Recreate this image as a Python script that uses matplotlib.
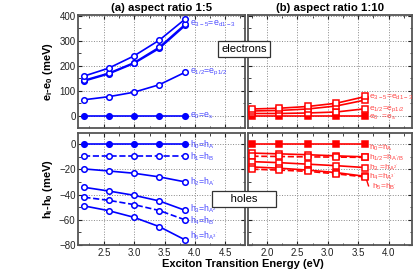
import matplotlib

matplotlib.use("Agg")

import matplotlib.pyplot as plt
from matplotlib.ticker import MultipleLocator

plt.rcParams["font.family"] = ["Liberation Sans", "DejaVu Sans"]
plt.rcParams["mathtext.fontset"] = "custom"
plt.rcParams["mathtext.rm"] = "Liberation Sans"
plt.rcParams["mathtext.default"] = "regular"

# exciton transition energies (eV)
x_a = [2.17, 2.57, 2.99, 3.41, 3.84]
x_b = [1.76, 2.20, 2.67, 3.14, 3.62]

# (a) aspect ratio 1:5, electrons (meV)
ea_0 = [0, 0, 0, 0, 0]
ea_12 = [65, 77, 95, 125, 175]
ea_3 = [140, 168, 210, 270, 362]
ea_4 = [143, 171, 213, 275, 367]
ea_5 = [160, 191, 240, 303, 388]

# (a) holes (meV)
ha_0 = [0, 0, 0, 0, 0]
ha_1 = [-9.5, -9.5, -9.5, -9.5, -9.5]
ha_2 = [-19.6, -21.2, -23.0, -25.9, -29.9]
ha_3 = [-34.2, -37.1, -40.5, -45.0, -52.5]
ha_4 = [-42.1, -44.5, -47.9, -52.6, -60.1]
ha_5 = [-49.0, -52.7, -58.0, -65.4, -76.0]

# (b) aspect ratio 1:10, electrons (meV)
eb_0 = [0, 0, 0, 0, 0]
eb_12 = [10, 10, 12, 16, 29]
eb_3 = [20, 22, 28, 40, 64]
eb_5 = [28, 31, 38, 51, 78]

# (b) holes (meV)
hb_0 = [0, 0, 0, 0, 0]
hb_1 = [-7.0, -7.6, -8.3, -9.2, -10.0]
hb_2 = [-9.5, -9.7, -10.0, -10.2, -10.4]
hb_3 = [-13.8, -14.6, -15.8, -17.0, -18.5]
hb_4 = [-18.0, -19.0, -20.5, -22.5, -25.5]
hb_5 = [-19.8, -20.5, -21.5, -23.5, -26.0]

BLUE, BLUE_TXT = "#0000ff", "#4a4aff"
RED, RED_TXT = "#ff0000", "#ff4848"

fig = plt.figure(figsize=(4.15, 2.70), dpi=100)
ax_at = fig.add_axes([0.1887, 0.526, 0.4017, 0.4185])
ax_bt = fig.add_axes([0.598, 0.526, 0.394, 0.4185])
ax_ab = fig.add_axes([0.1887, 0.0926, 0.4017, 0.415])
ax_bb = fig.add_axes([0.598, 0.0926, 0.394, 0.415])


def series(ax, x, y, color, marker, filled=False, ls="-"):
    ax.plot(x, y, ls=ls, color=color, lw=1.2, marker=marker, ms=4, mew=1.1,
            mfc=color if filled else "white", mec=color, clip_on=False, zorder=3)


for y, f, ls in [(ea_0, True, "-"), (ea_12, False, "-"), (ea_3, False, "-"),
                 (ea_4, False, "-"), (ea_5, False, "-")]:
    series(ax_at, x_a, y, BLUE, "o", f, ls)
for y, f, ls in [(ha_0, True, "-"), (ha_1, False, "--"), (ha_2, False, "-"),
                 (ha_3, False, "-"), (ha_4, False, "--"), (ha_5, False, "-")]:
    series(ax_ab, x_a, y, BLUE, "o", f, ls)
for y, f, ls in [(eb_0, True, "-"), (eb_12, False, "-"), (eb_3, False, "-"),
                 (eb_5, False, "-")]:
    series(ax_bt, x_b, y, RED, "s", f, ls)
for y, f, ls in [(hb_0, True, "-"), (hb_1, False, "-"), (hb_2, False, "--"),
                 (hb_3, False, "-"), (hb_4, False, "-"), (hb_5, False, "--")]:
    series(ax_bb, x_b, y, RED, "s", f, ls)
# connector from last h4/h5 point to the h5 label
ax_bb.plot([x_b[-1], x_b[-1] + 0.05], [hb_4[-1], -33], color=RED, lw=1.0)

for ax in (ax_at, ax_ab):
    ax.set_xlim(2.07, 4.83)
for ax in (ax_bt, ax_bb):
    ax.set_xlim(1.69, 4.38)
for ax in (ax_at, ax_bt):
    ax.set_ylim(-48, 404)
    ax.yaxis.set_major_locator(MultipleLocator(100))
    ax.yaxis.set_minor_locator(MultipleLocator(50))
    ax.tick_params(labelbottom=False)
for ax in (ax_ab, ax_bb):
    ax.set_ylim(-80, 9)
    ax.yaxis.set_major_locator(MultipleLocator(20))
    ax.yaxis.set_minor_locator(MultipleLocator(10))
for ax in (ax_bt, ax_bb):
    ax.tick_params(labelleft=False)

for ax in (ax_at, ax_bt, ax_ab, ax_bb):
    ax.xaxis.set_major_locator(MultipleLocator(0.5))
    ax.xaxis.set_minor_locator(MultipleLocator(0.25))
    ax.tick_params(which="both", direction="in", top=True, right=True,
                   labelsize=7, colors="#222222", pad=2)
    ax.tick_params(which="major", length=3, width=0.8)
    ax.tick_params(which="minor", length=1.8, width=0.6)
    ax.grid(True, which="major", ls=":", color="#888888", lw=0.7)
    for s in ax.spines.values():
        s.set_linewidth(1.3)
        s.set_color("#555555")

ax_at.set_title("(a) aspect ratio 1:5", fontsize=8.2, fontweight="bold", pad=3)
ax_bt.set_title("(b) aspect ratio 1:10", fontsize=8.2, fontweight="bold", pad=3)
ax_at.set_ylabel("$e_i$-$e_0$ (meV)", fontsize=8, fontweight="bold", labelpad=3)
ax_ab.set_ylabel("$h_i$-$h_0$ (meV)", fontsize=8, fontweight="bold", labelpad=3)
fig.text(0.585, 0.005, "Exciton Transition Energy (eV)", ha="center", va="bottom",
         fontsize=8, fontweight="bold")

lab = dict(fontsize=6.3, va="center", ha="left", clip_on=False)
xt_a = 3.92
ax_at.text(xt_a, 368, "$e_{3-5}$=$e_{d1-3}$", color=BLUE_TXT, **lab)
ax_at.text(xt_a, 175, "$e_{1/2}$=$e_{p1/2}$", color=BLUE_TXT, **lab)
ax_at.text(xt_a, 0, "$e_0$=$e_s$", color=BLUE_TXT, **lab)
ax_ab.text(xt_a, 0, "$h_0$=$h_A$", color=BLUE_TXT, **lab)
ax_ab.text(xt_a, -10, "$h_1$=$h_B$", color=BLUE_TXT, **lab)
ax_ab.text(xt_a, -30, "$h_2$=$h_{A'}$", color=BLUE_TXT, **lab)
ax_ab.text(xt_a, -51.5, "$h_3$=$h_{A^{2'}}$", color=BLUE_TXT, **lab)
ax_ab.text(xt_a, -60.5, "$h_4$=$h_{B'}$", color=BLUE_TXT, **lab)
ax_ab.text(xt_a, -73, "$h_5$=$h_{A^{3'}}$", color=BLUE_TXT, **lab)

lab_b = dict(lab, fontsize=6)
xt_b = 3.68
ax_bt.text(xt_b, 75, "$e_{3-5}$=$e_{d1-3}$", color=RED_TXT, **lab_b)
ax_bt.text(xt_b, 28, "$e_{1/2}$=$e_{p1/2}$", color=RED_TXT, **lab_b)
ax_bt.text(xt_b, -7, "$e_0$  =$e_s$", color=RED_TXT, **lab_b)
ax_bb.text(xt_b, -3, "$h_0$=$h_A$", color=RED_TXT, **lab_b)
ax_bb.text(xt_b, -10.5, "$h_{1/2}$=$h_{A'/B}$", color=RED_TXT, **lab_b)
ax_bb.text(xt_b, -18.5, "$h_3$ =$h_{A^{2'}}$", color=RED_TXT, **lab_b)
ax_bb.text(xt_b, -26, "$h_4$=$h_{A^{3'}}$", color=RED_TXT, **lab_b)
ax_bb.text(xt_b + 0.05, -33.5, "$h_5$=$h_{B'}$", color=RED_TXT, **lab_b)

box = dict(boxstyle="square,pad=0.25", fc="white", ec="#333333", lw=0.9)
fig.text(244 / 415, 1 - 49 / 270, "electrons", ha="center", va="center",
         fontsize=8, bbox=box, zorder=10)
fig.text(244 / 415, 1 - 199 / 270, "     holes     ", ha="center", va="center",
         fontsize=8, bbox=box, zorder=10)

fig.savefig("out.png", dpi=100)
plt.close(fig)
